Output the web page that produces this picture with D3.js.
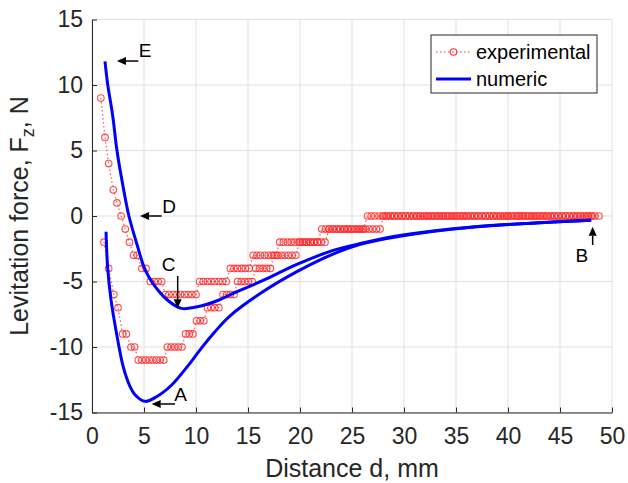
<!DOCTYPE html>
<html><head><meta charset="utf-8">
<script src="https://cdn.jsdelivr.net/npm/d3@7"></script>
<style>
html,body{margin:0;padding:0;background:#fff;}
text{font-family:"Liberation Sans",Arial,sans-serif;}
</style></head>
<body>
<svg id="chart" width="628" height="483"></svg>
<script>
// ---------------- data ----------------
const xTicks = [0,5,10,15,20,25,30,35,40,45,50];
const yTicks = [-15,-10,-5,0,5,10,15];
const seriesNames = ["experimental","numeric"];

// experimental, branch through E (upper)
const expUpper = [[0.85,9],[1.25,6],[1.6,4],[2.05,2],[2.4,1],[2.8,0],[3.2,-1],[3.6,-2],[4.0,-3],[4.35,-3],
[4.8,-4],[5.2,-4],[5.6,-5],[6.0,-5],[6.35,-5],[6.7,-5],
[7.05,-6],[7.4,-6],[7.8,-6],[8.15,-6],[8.5,-6],[8.9,-6],[9.25,-6],[9.6,-6],[10.0,-6],
[10.35,-5],[10.7,-5],[11.1,-5],[11.45,-5],[11.8,-5],[12.2,-5],[12.55,-5],[12.9,-5],
[13.3,-4],[13.65,-4],[14.0,-4],[14.4,-4],[14.75,-4],[15.1,-4],
[15.5,-3],[15.85,-3],[16.2,-3],[16.6,-3],[16.95,-3],[17.3,-3],[17.7,-3],
[18.05,-2],[18.4,-2],[18.8,-2],[19.15,-2],[19.5,-2],[19.9,-2],[20.25,-2],[20.6,-2],[21.0,-2],[21.35,-2],[21.7,-2],
[22.1,-1],[22.45,-1],[22.8,-1],[23.2,-1],[23.55,-1],[23.9,-1],[24.3,-1],[24.65,-1],[25.0,-1],[25.4,-1],[25.75,-1],[26.1,-1],
[26.5,0],[26.85,0],[27.2,0],[27.6,0],[27.95,0],[28.3,0],[28.7,0],[29.05,0],[29.4,0],[29.8,0],
[30.15,0],[30.5,0],[30.9,0],[31.25,0],[31.6,0],[32.0,0],[32.35,0],[32.7,0],[33.1,0],[33.45,0],
[33.8,0],[34.2,0],[34.55,0],[34.9,0],[35.3,0],[35.65,0],[36.0,0],[36.4,0],[36.75,0],[37.1,0],
[37.5,0],[37.85,0],[38.2,0],[38.6,0],[38.95,0],[39.3,0],[39.7,0],[40.05,0],[40.4,0],[40.8,0],
[41.15,0],[41.5,0],[41.9,0],[42.25,0],[42.6,0],[43.0,0],[43.35,0],[43.7,0],[44.1,0],[44.45,0],
[44.8,0],[45.2,0],[45.55,0],[45.9,0],[46.3,0],[46.65,0],[47.0,0],[47.4,0],[47.75,0],[48.1,0]];

// experimental, branch through A (lower)
const expLower = [[1.15,-2],[1.6,-4],[2.1,-6],[2.5,-7],[2.95,-9],[3.3,-9],[3.75,-10],[4.1,-10],
[4.45,-11],[4.8,-11],[5.15,-11],[5.5,-11],[5.85,-11],[6.2,-11],[6.55,-11],[6.9,-11],
[7.25,-10],[7.6,-10],[7.95,-10],[8.3,-10],[8.65,-10],[9.0,-9],[9.35,-9],[9.7,-9],
[10.05,-8],[10.4,-8],[10.75,-8],[11.1,-7],[11.45,-7],[11.8,-7],[12.2,-7],
[12.6,-6],[12.95,-6],[13.3,-6],[13.65,-6],[14.0,-5],[14.35,-5],[14.7,-5],[15.05,-5],[15.4,-5],
[15.75,-4],[16.1,-4],[16.45,-4],[16.8,-4],[17.15,-4],
[17.5,-3],[17.85,-3],[18.2,-3],[18.55,-3],[18.9,-3],[19.25,-3],[19.6,-3],
[19.95,-2],[20.3,-2],[20.65,-2],[21.0,-2],[21.35,-2],[21.7,-2],[22.05,-2],[22.4,-2],
[22.8,-1],[23.15,-1],[23.5,-1],[23.85,-1],[24.2,-1],[24.55,-1],[24.9,-1],[25.25,-1],[25.6,-1],[25.95,-1],[26.3,-1],[26.65,-1],[27.0,-1],[27.35,-1],[27.7,-1],
[28.05,0],[28.4,0],[28.75,0],[29.1,0],[29.45,0],[29.8,0],[30.15,0],[30.5,0],[30.85,0],[31.2,0],
[31.55,0],[31.9,0],[32.25,0],[32.6,0],[32.95,0],[33.3,0],[33.65,0],[34.0,0],[34.35,0],[34.7,0],
[35.05,0],[35.4,0],[35.75,0],[36.1,0],[36.45,0],[36.8,0],[37.15,0],[37.5,0],[37.85,0],[38.2,0],
[38.55,0],[38.9,0],[39.25,0],[39.6,0],[39.95,0],[40.3,0],[40.65,0],[41.0,0],[41.35,0],[41.7,0],
[42.05,0],[42.4,0],[42.75,0],[43.1,0],[43.45,0],[43.8,0],[44.15,0],[44.5,0],[44.85,0],[45.2,0],
[45.55,0],[45.9,0],[46.25,0],[46.6,0],[46.95,0],[47.3,0],[47.65,0],[48.0,0],[48.35,0],[48.75,0]];

// numeric curves
const numUpper = [[1.25,11.8],[1.5,10.1],[2.0,7.6],[2.4,5.0],[3.0,2.2],[3.55,0],[4.3,-2.1],[5.1,-4.1],
[5.9,-5.2],[7.3,-6.45],[8.6,-7.05],[10.0,-6.95],[12.1,-6.45],[13.3,-6.0],[16.5,-4.9],[19.7,-3.7],
[22.9,-2.7],[25.8,-2.1],[29.9,-1.45],[36.3,-0.85],[42.8,-0.52],[48.0,-0.33]];
const numLower = [[1.35,-1.2],[1.5,-3.9],[1.83,-6.4],[2.37,-9.0],[3.0,-11.5],[3.65,-13.0],[4.2,-13.7],
[5.1,-14.15],[6.2,-13.8],[7.66,-12.9],[9.26,-11.4],[10.5,-10.1],[11.8,-8.85],[13.3,-7.6],[16.5,-5.75],
[19.7,-4.25],[22.9,-3.0],[25.8,-2.16],[29.9,-1.5],[36.3,-0.87],[42.8,-0.53],[48.0,-0.33]];

// annotations: label, arrow tip (data), arrow tail (data), label anchor (data)
const notes = [
  {label:"E", tip:[2.4,11.83], tail:[4.45,11.83], at:[4.5,12.1]},
  {label:"D", tip:[4.62,0.0],  tail:[6.7,0.0],   at:[6.75,0.25]},
  {label:"C", tip:[8.24,-7.05],tail:[8.24,-4.58],at:[6.7,-4.2]},
  {label:"A", tip:[5.74,-14.35],tail:[7.98,-14.35],at:[7.9,-14.15]},
  {label:"B", tip:[48.14,-0.82],tail:[48.14,-2.21],at:[46.5,-3.5]}
];

// ---------------- drawing ----------------
const svg = d3.select("#chart");
const W = 628, H = 483;
const m = {left:92, right:16, top:19.5, bottom:70.5};
const x = d3.scaleLinear().domain([0,50]).range([m.left, W-m.right]);
const y = d3.scaleLinear().domain([-15,15]).range([H-m.bottom, m.top]);
const axisColor = "#262626";
const gridColor = "#dfdfdf";

svg.append("rect").attr("width",W).attr("height",H).attr("fill","#fff");

// grid
svg.append("g").selectAll("line").data(xTicks).join("line")
  .attr("x1",d=>x(d)).attr("x2",d=>x(d)).attr("y1",y(-15)).attr("y2",y(15))
  .attr("stroke",gridColor).attr("stroke-width",1);
svg.append("g").selectAll("line").data(yTicks).join("line")
  .attr("y1",d=>y(d)).attr("y2",d=>y(d)).attr("x1",x(0)).attr("x2",x(50))
  .attr("stroke",gridColor).attr("stroke-width",1);

// axes
const xAxis = d3.axisBottom(x).tickValues(xTicks).tickSizeInner(-5).tickSizeOuter(0).tickPadding(15);
const yAxis = d3.axisLeft(y).tickValues(yTicks).tickSizeInner(-5).tickSizeOuter(0).tickPadding(9).tickFormat(d=>d);
const gx = svg.append("g").attr("transform",`translate(0,${y(-15)})`).call(xAxis);
const gy = svg.append("g").attr("transform",`translate(${x(0)},0)`).call(yAxis);
[gx,gy].forEach(g=>{
  g.select(".domain").attr("stroke",axisColor).attr("stroke-width",1);
  g.selectAll(".tick line").attr("stroke",axisColor);
  g.selectAll(".tick text").attr("fill",axisColor).style("font-size","23px")
   .style("font-family","'Liberation Sans',Arial,sans-serif");
});
gy.selectAll(".tick text").text(d=> d<0 ? "-"+Math.abs(d) : d);

// axis labels
svg.append("text").attr("x",(x(0)+x(50))/2).attr("y",477)
  .attr("text-anchor","middle").attr("fill",axisColor).style("font-size","25px")
  .text("Distance d, mm");
const yl = svg.append("text").attr("transform",`translate(28,${(y(-15)+y(15))/2}) rotate(-90)`)
  .attr("text-anchor","middle").attr("fill",axisColor).style("font-size","25px");
yl.append("tspan").text("Levitation force, F");
yl.append("tspan").attr("dy",6).style("font-size","18px").text("z");
yl.append("tspan").attr("dy",-6).text(", N");

// experimental
const lineExp = d3.line().x(d=>x(d[0])).y(d=>y(d[1]));
const expColor = "#ff2a2a";
[expLower, expUpper].forEach(ser=>{
  svg.append("path").attr("d",lineExp(ser)).attr("fill","none")
    .attr("stroke",expColor).attr("stroke-width",1.2).attr("stroke-dasharray","1.5,2.5").attr("opacity",0.8);
  svg.append("g").selectAll("circle").data(ser).join("circle")
    .attr("cx",d=>x(d[0])).attr("cy",d=>y(d[1])).attr("r",3.3)
    .attr("fill","none").attr("stroke",expColor).attr("stroke-width",1.1).attr("opacity",0.85);
});

// numeric
const lineNum = d3.line().x(d=>x(d[0])).y(d=>y(d[1])).curve(d3.curveCatmullRom.alpha(0.5));
[numUpper, numLower].forEach(ser=>{
  svg.append("path").attr("d",lineNum(ser)).attr("fill","none")
    .attr("stroke","#0000ff").attr("stroke-width",3);
});

// annotations
function arrow(tip, tail){
  const tx=x(tip[0]), ty=y(tip[1]), sx=x(tail[0]), sy=y(tail[1]);
  const ang=Math.atan2(ty-sy, tx-sx), L=9, Wd=4;
  const bx=tx-L*Math.cos(ang), by=ty-L*Math.sin(ang);
  svg.append("line").attr("x1",sx).attr("y1",sy).attr("x2",bx).attr("y2",by)
    .attr("stroke","#000").attr("stroke-width",1.5);
  const px=-Math.sin(ang), py=Math.cos(ang);
  svg.append("path").attr("d",`M${tx},${ty}L${bx+px*Wd},${by+py*Wd}L${bx-px*Wd},${by-py*Wd}Z`).attr("fill","#000");
}
notes.forEach(n=>{
  arrow(n.tip,n.tail);
  svg.append("text").attr("x",x(n.at[0])).attr("y",y(n.at[1])).attr("fill","#000")
    .style("font-size","19px").text(n.label);
});

// legend
const lg = svg.append("g");
lg.append("rect").attr("x",431).attr("y",35).attr("width",166).attr("height",58)
  .attr("fill","#fff").attr("stroke",axisColor).attr("stroke-width",1);
lg.append("line").attr("x1",436).attr("x2",471).attr("y1",52).attr("y2",52)
  .attr("stroke",expColor).attr("stroke-width",1.2).attr("stroke-dasharray","1.5,2.5");
lg.append("circle").attr("cx",453.5).attr("cy",52).attr("r",3.3).attr("fill","none")
  .attr("stroke",expColor).attr("stroke-width",1.1);
lg.append("line").attr("x1",436).attr("x2",471).attr("y1",79).attr("y2",79)
  .attr("stroke","#0000ff").attr("stroke-width",3);
lg.selectAll("text.lt").data(seriesNames).join("text").attr("class","lt")
  .attr("x",476).attr("y",(d,i)=>52+i*27).attr("dy","0.35em")
  .attr("fill","#000").style("font-size","20px").text(d=>d);
</script>
</body></html>
